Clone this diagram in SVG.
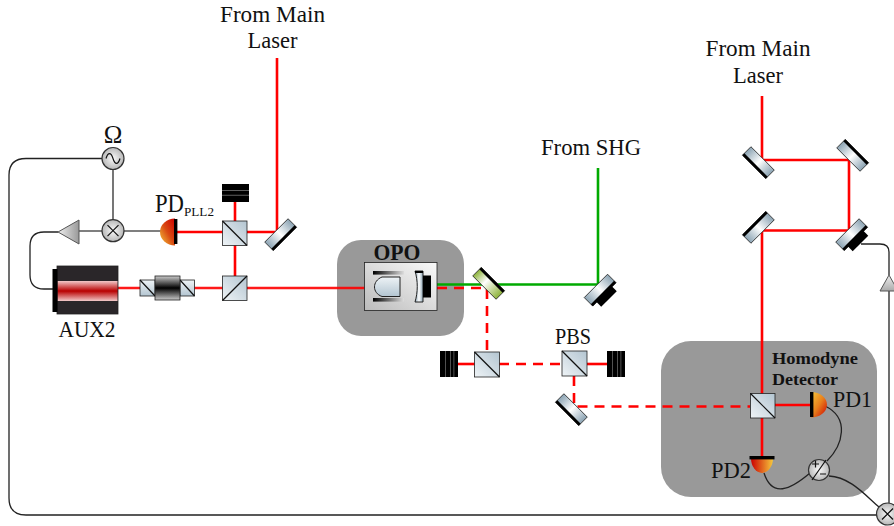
<svg xmlns="http://www.w3.org/2000/svg" xmlns:xlink="http://www.w3.org/1999/xlink" width="894" height="526" viewBox="0 0 894 526">
<style>
text{font-family:"Liberation Serif","DejaVu Serif",serif;fill:#111;font-size:23px}
.m{text-anchor:middle}
.b{font-weight:bold}
.beam{fill:none;stroke:#f00;stroke-width:2.6}
.dash{stroke-dasharray:10 7}
.green{fill:none;stroke:#0a0;stroke-width:2.6}
.wire{fill:none;stroke:#222;stroke-width:1.3}
.wg{fill:none;stroke:#555;stroke-width:1.6}
.box{fill:#999}
.out{stroke:#222;stroke-width:.8}
.sym{fill:none;stroke:#111;stroke-width:1.2}
</style>
<defs>
<linearGradient id="steel" x1="0" x2="1" y1="0" y2="0"><stop offset="0" stop-color="#8ba3b3"/><stop offset=".5" stop-color="#fff"/><stop offset="1" stop-color="#8ba3b3"/></linearGradient>
<linearGradient id="lime" x1="0" x2="1" y1="0" y2="0"><stop offset="0" stop-color="#8db33a"/><stop offset=".6" stop-color="#fff"/><stop offset="1" stop-color="#8db33a"/></linearGradient>
<linearGradient id="cube" x1="0" x2="1" y1="1" y2="0"><stop offset="0" stop-color="#eef3f6"/><stop offset="1" stop-color="#b3c5d1"/></linearGradient>
<linearGradient id="cube3" x1="0" x2="0" y1="1" y2="0"><stop offset="0" stop-color="#b3c5d1"/><stop offset="1" stop-color="#eef3f6"/></linearGradient>
<linearGradient id="pdl" x1="1" x2="0" y1="0" y2="1"><stop offset="0" stop-color="#c00"/><stop offset=".5" stop-color="#d94a12"/><stop offset="1" stop-color="#f6c83c"/></linearGradient>
<linearGradient id="pdr" x1="0" x2="1" y1="0" y2="1"><stop offset="0" stop-color="#f6c83c"/><stop offset=".5" stop-color="#e8801c"/><stop offset="1" stop-color="#c00"/></linearGradient>
<linearGradient id="pdd" x1="0" x2="1" y1="0" y2="0"><stop offset="0" stop-color="#c00"/><stop offset="1" stop-color="#f6c83c"/></linearGradient>
<linearGradient id="tri" x1="0" x2="1" y1="0" y2="0"><stop offset="0" stop-color="#eee"/><stop offset="1" stop-color="#999"/></linearGradient>
<linearGradient id="triv" x1="0" x2="0" y1="0" y2="1"><stop offset="0" stop-color="#eee"/><stop offset="1" stop-color="#aaa"/></linearGradient>
<radialGradient id="disc" cx=".5" cy=".5" r=".6"><stop offset="0" stop-color="#fafafa"/><stop offset="1" stop-color="#aaa"/></radialGradient>
<linearGradient id="las" x1="0" x2="0" y1="0" y2="1"><stop offset="0" stop-color="#f2c9c9"/><stop offset=".5" stop-color="#b80000"/><stop offset="1" stop-color="#f2c9c9"/></linearGradient>
<linearGradient id="iso" x1="0" x2="0" y1="0" y2="1"><stop offset="0" stop-color="#ccc"/><stop offset=".5" stop-color="#000"/><stop offset="1" stop-color="#ccc"/></linearGradient>
<linearGradient id="cav" x1="0" x2="1" y1="1" y2="0"><stop offset="0" stop-color="#bbb"/><stop offset="1" stop-color="#fafafa"/></linearGradient>
<linearGradient id="bar" x1="0" x2="1" y1="0" y2="0"><stop offset="0" stop-color="#000"/><stop offset="1" stop-color="#ddd"/></linearGradient>
<g id="mirror"><rect x="-16.5" y="-6.500" width="33" height="12" fill="url(#steel)" class="out"/><rect x="-16.5" y="2.800" width="33" height="2.800" fill="#000"/></g>
<g id="mirrorB"><use href="#mirror"/><rect x="-11" y="4" width="22" height="8" fill="#000"/></g>
<g id="mixer"><circle r="11" fill="url(#disc)" stroke="#333" stroke-width="1.2"/><path d="M-5.5-5.5 5.5 5.5M-5.5 5.5 5.5-5.5" class="sym"/></g>
<g id="dump"><rect x="-9" y="-13" width="18" height="26" fill="#666"/><rect x="-9" y="-13" width="5" height="26" fill="#000"/><rect x="-3.200" y="-13" width="4.400" height="26" fill="#000"/><rect x="2" y="-13" width="2.500" height="26" fill="#000"/><rect x="5.300" y="-13" width="3.700" height="26" fill="#000"/></g>
<g id="dumpH"><rect x="-13" y="-9" width="27" height="18" fill="#777"/><rect x="-13" y="-9" width="27" height="6" fill="#000"/><rect x="-13" y="-2.200" width="27" height="4" fill="#000"/><rect x="-13" y="2.600" width="27" height="6.400" fill="#000"/></g>
</defs>

<g id="box-opo"><rect class="box" x="337" y="240" width="127" height="96" rx="24"/></g>
<g id="box-homodyne"><rect class="box" x="661" y="341" width="216" height="156" rx="30"/></g>

<g id="connectors">
<path class="beam" d="M277 58V232H177"/>
<path class="beam" d="M235 202V276"/>
<path class="beam" stroke-opacity=".9" d="M118 288H223M247 288H375"/>
<path class="green" d="M437 284.500H598V168"/>
<path class="beam dash" d="M437 288H487V352"/>
<path class="beam" d="M458 364H475"/>
<path class="beam dash" d="M499 364H562"/>
<path class="beam" d="M587 364H607"/>
<path class="beam dash" d="M574 376V406.500H750"/>
<path class="beam" d="M762 96V160H849V230.500H762V456M775 405H810"/>
<path class="wg" d="M113 169V220M102 231H79M124 231H161"/>
<path class="wire" d="M102 158.500H26Q9 158.500 9 175V498Q9 515 26 515H876"/>
<path class="wire" d="M58 232H44Q30 232 30 246V275Q30 289 44 289H53"/>
<path class="wire" d="M861 244H880Q889 244 889 252V275M889 290V503"/>
<path class="wire" d="M825 406C850 418 843 445 827 461M764 473C772 498 790 490 810 473M829 476C850 477 865 495 879 507"/>
</g>

<g id="ms-ws-1"><use href="#mirror" transform="translate(281 235) rotate(-45)"/></g>
<g id="bs-pll"><rect x="222.500" y="221" width="24.500" height="24.500" fill="url(#cube)" class="out"/><path d="M222.500 221 247 245.500" class="sym"/></g>
<g id="bs-aux"><rect x="222.500" y="276" width="24.500" height="24.500" fill="url(#cube)" class="out"/><path d="M222.500 300.500 247 276" class="sym"/></g>
<g id="dump-pll"><use href="#dumpH" transform="translate(235 193)"/></g>
<g id="pd-pll2"><path d="M175 218.500A15 13.500 0 0 0 175 245.500Z" fill="url(#pdl)"/><rect x="174" y="219" width="3.400" height="25" fill="#000"/></g>
<g id="mixer-left"><use href="#mixer" transform="translate(113 230.700)"/></g>
<g id="osc"><circle cx="113" cy="158.500" r="11" fill="url(#disc)" stroke="#333" stroke-width="1.200"/><path d="M106 158.500C108 152 111 152 113 158.500S118 165 120 158.500" class="sym"/></g>
<g id="amp-left"><path d="M58 232 79 220V244Z" fill="url(#tri)" stroke="#555"/></g>
<g id="aux2"><rect x="57" y="266" width="61" height="48" fill="#2a2629" class="out"/><rect x="57.500" y="281" width="60" height="20" fill="url(#las)"/><rect x="52.500" y="269" width="5" height="43" fill="#000"/></g>
<g id="isolator"><rect x="140" y="280" width="15" height="16" fill="url(#cube3)" class="out"/><rect x="180" y="280" width="14.500" height="16" fill="url(#cube3)" class="out"/><path d="M140 280 155 296M180 280 194.500 296" class="sym"/><rect x="155" y="276" width="25" height="24" fill="url(#iso)" class="out"/></g>

<g id="opo"><rect x="364.500" y="262.500" width="72.500" height="48" fill="url(#cav)" class="out"/>
<rect x="373" y="271" width="31" height="3.600" fill="url(#bar)"/><rect x="373" y="298" width="31" height="3.600" fill="url(#bar)"/>
<path d="M400 277V296.500H382C372 293 372 281 382 277Z" fill="url(#cube3)" stroke="#222"/>
<path d="M415 271H423V302H415C418 292 418 281 415 271Z" fill="url(#steel)" stroke="#222"/><rect x="423" y="275.500" width="8" height="22" fill="#000"/><rect x="415" y="271" width="8" height="2" fill="#000"/></g>
<g id="dichroic"><rect x="-16.500" y="-6.500" width="33" height="12" fill="url(#lime)" class="out" transform="translate(489 283) rotate(225)"/><rect x="-16.500" y="2.800" width="33" height="2.800" fill="#000" transform="translate(489 283) rotate(225)"/></g>
<g id="ms-shg"><use href="#mirrorB" transform="translate(600.500 290.500) rotate(-45)"/></g>
<g id="bs-dash"><rect x="474.500" y="352" width="25" height="25" fill="url(#cube)" class="out"/><path d="M474.500 352 499.500 377" class="sym"/></g>
<g id="pbs"><rect x="562" y="351" width="25" height="25" fill="url(#cube)" class="out"/><path d="M562 351 587 376" class="sym"/></g>
<g id="dump-left"><use href="#dump" transform="translate(449 364)"/></g>
<g id="dump-right"><use href="#dump" transform="translate(616 364)"/></g>
<g id="ms-bottom"><use href="#mirror" transform="translate(571 410) rotate(45)"/></g>

<g id="ms-tl"><use href="#mirror" transform="translate(758 163) rotate(45)"/></g>
<g id="ms-tr"><use href="#mirror" transform="translate(853 155) rotate(225)"/></g>
<g id="ms-ll"><use href="#mirror" transform="translate(758 227) rotate(135)"/></g>
<g id="ms-lr"><use href="#mirrorB" transform="translate(852 235) rotate(-45)"/></g>
<g id="amp-right"><path d="M889 275 880 291H898Z" fill="url(#triv)" stroke="#555"/></g>

<g id="bs-hd"><rect x="750.500" y="393.500" width="24.500" height="24.500" fill="url(#cube)" class="out"/><path d="M750.500 393.500 775 418" class="sym"/></g>
<g id="pd1"><path d="M811 392A16 12.750 0 0 1 811 417.500Z" fill="url(#pdr)"/><rect x="810" y="392" width="3.400" height="25" fill="#000"/></g>
<g id="pd2"><path d="M751 458A11 15 0 0 0 773 458Z" fill="url(#pdd)"/><rect x="749.500" y="456" width="25" height="3.400" fill="#000"/></g>
<g id="sub"><circle cx="819" cy="470" r="10.500" fill="url(#disc)" stroke="#333" stroke-width="1.200"/><path d="M812 464H819M815.500 460.500V467.500M820 474H826M826 460 812 480" class="sym" stroke-width="1"/></g>
<g id="mixer-right"><use href="#mixer" transform="translate(887.500 514)"/></g>

<g id="labels">
<text class="m" x="272.500" y="22" textLength="105" lengthAdjust="spacingAndGlyphs">From Main</text>
<text class="m" x="272.500" y="48" textLength="50" lengthAdjust="spacingAndGlyphs">Laser</text>
<text class="m" x="758" y="56" textLength="105" lengthAdjust="spacingAndGlyphs">From Main</text>
<text class="m" x="758" y="83" textLength="50" lengthAdjust="spacingAndGlyphs">Laser</text>
<text class="m" x="591" y="155" textLength="100" lengthAdjust="spacingAndGlyphs">From SHG</text>
<text class="m" x="113" y="143" style="font-size:25px">Ω</text>
<text x="155" y="212" style="font-size:25px" textLength="29" lengthAdjust="spacingAndGlyphs">PD</text>
<text x="184" y="216" style="font-size:13px" textLength="30" lengthAdjust="spacingAndGlyphs">PLL2</text>
<text class="m" x="87" y="337" style="font-size:24px" textLength="57" lengthAdjust="spacingAndGlyphs">AUX2</text>
<text class="m b" x="397" y="260" textLength="47" lengthAdjust="spacingAndGlyphs">OPO</text>
<text class="m" x="573" y="344" textLength="36" lengthAdjust="spacingAndGlyphs">PBS</text>
<text class="b" x="772" y="364" style="font-size:16px" textLength="86" lengthAdjust="spacingAndGlyphs">Homodyne</text>
<text class="b" x="772" y="385" style="font-size:16px" textLength="66" lengthAdjust="spacingAndGlyphs">Detector</text>
<text x="833" y="407" style="font-size:24px" textLength="39" lengthAdjust="spacingAndGlyphs">PD1</text>
<text x="711" y="478" style="font-size:24px" textLength="40" lengthAdjust="spacingAndGlyphs">PD2</text>
</g>
</svg>
